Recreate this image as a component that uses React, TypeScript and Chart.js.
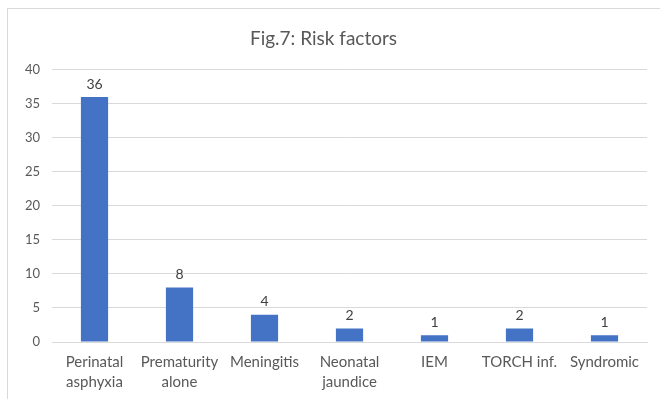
import React, { useEffect, useRef } from "react";
import { Chart, registerables } from "chart.js";

Chart.register(...registerables);

const categories: string[][] = [
  ["Perinatal", "asphyxia"],
  ["Prematurity", "alone"],
  ["Meningitis"],
  ["Neonatal", "jaundice"],
  ["IEM"],
  ["TORCH inf."],
  ["Syndromic"],
];
const values: number[] = [36, 8, 4, 2, 1, 2, 1];
const yTicks: number[] = [0, 5, 10, 15, 20, 25, 30, 35, 40];
const titleText = "Fig.7: Risk factors";

const FONT = "Lato, 'Open Sans', sans-serif";

const dataLabelPlugin = {
  id: "dataLabels",
  afterDatasetsDraw(chart: any) {
    const ctx = chart.ctx;
    const meta = chart.getDatasetMeta(0);
    ctx.save();
    ctx.font = `14px ${FONT}`;
    ctx.fillStyle = "#404040";
    ctx.textAlign = "center";
    ctx.textBaseline = "bottom";
    meta.data.forEach((bar: any, i: number) => {
      ctx.fillText(String(values[i]), bar.x, bar.y - 6);
    });
    ctx.restore();
  },
};

export default function App() {
  const ref = useRef<HTMLCanvasElement | null>(null);
  useEffect(() => {
    if (!ref.current) return;
    const chart = new Chart(ref.current, {
      type: "bar",
      data: {
        labels: categories,
        datasets: [
          {
            data: values,
            backgroundColor: "#4472C4",
            barPercentage: 0.5,
            categoryPercentage: 0.64,
          },
        ],
      },
      options: {
        animation: false,
        responsive: false,
        maintainAspectRatio: false,
        layout: { padding: { left: 0, right: 13, top: 0, bottom: 0 } },
        plugins: {
          legend: { display: false },
          tooltip: { enabled: false },
          title: {
            display: true,
            text: titleText,
            color: "#595959",
            font: { family: FONT, size: 19, weight: "normal" },
            padding: { top: 27, bottom: 20 },
          },
        },
        scales: {
          x: {
            afterFit(scale: any) {
              scale.height = 57;
            },
            grid: { display: false, drawTicks: false },
            border: { display: true, color: "#d9d9d9" },
            ticks: {
              color: "#595959",
              font: { family: FONT, size: 15, lineHeight: 1.33 },
              padding: 10,
              maxRotation: 0,
              autoSkip: false,
            },
          },
          y: {
            min: 0,
            max: 40,
            afterBuildTicks(scale: any) {
              scale.ticks = yTicks.map((v) => ({ value: v }));
            },
            afterFit(scale: any) {
              scale.width = 52;
            },
            grid: { color: "#d9d9d9", drawTicks: false },
            border: { display: false },
            ticks: {
              color: "#595959",
              font: { family: FONT, size: 13 },
              padding: 12,
            },
          },
        },
      },
      plugins: [dataLabelPlugin],
    });
    return () => chart.destroy();
  }, []);

  return (
    <div
      style={{
        position: "fixed",
        left: 0,
        top: 0,
        width: 660,
        height: 399,
        background: "#ffffff",
        overflow: "hidden",
      }}
    >
      <div
        style={{
          position: "absolute",
          left: 7,
          top: 8,
          width: 700,
          height: 420,
          borderLeft: "1px solid #d9d9d9",
          borderTop: "1px solid #d9d9d9",
        }}
      />
      <canvas
        ref={ref}
        width={660}
        height={399}
        style={{ position: "absolute", left: 0, top: 0 }}
      />
    </div>
  );
}
